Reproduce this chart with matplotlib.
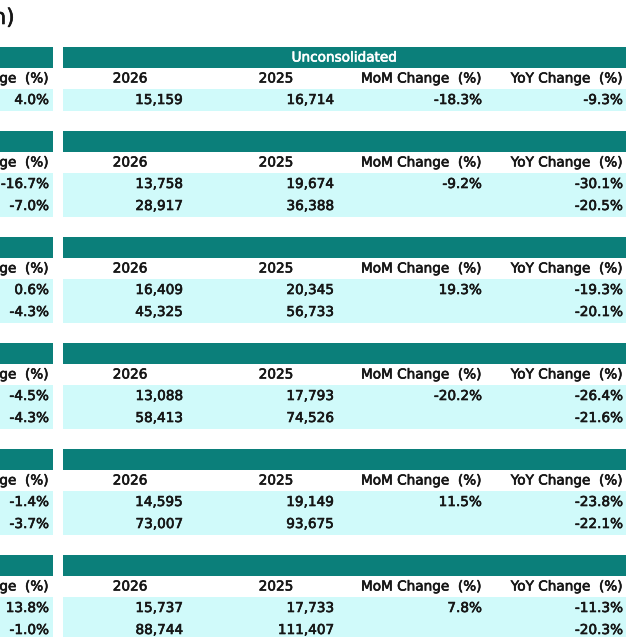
import matplotlib
matplotlib.use('Agg')
import matplotlib.pyplot as plt
import matplotlib.patheffects as pe
from matplotlib.patches import Rectangle

plt.rcParams['font.family'] = ['DejaVu Sans']

TEAL = '#0b7f7a'
CYAN = '#d0fafa'
INK = '#161616'

# ---- data (one entry per monthly block) ----
left_yoy = [["4.0%"], ["-16.7%", "-7.0%"], ["0.6%", "-4.3%"], ["-4.5%", "-4.3%"],
            ["-1.4%", "-3.7%"], ["13.8%", "-1.0%"]]
val_2026 = [["15,159"], ["13,758", "28,917"], ["16,409", "45,325"], ["13,088", "58,413"],
            ["14,595", "73,007"], ["15,737", "88,744"]]
val_2025 = [["16,714"], ["19,674", "36,388"], ["20,345", "56,733"], ["17,793", "74,526"],
            ["19,149", "93,675"], ["17,733", "111,407"]]
mom = [["-18.3%"], ["-9.2%", ""], ["19.3%", ""], ["-20.2%", ""], ["11.5%", ""], ["7.8%", ""]]
yoy = [["-9.3%"], ["-30.1%", "-20.5%"], ["-19.3%", "-20.1%"], ["-26.4%", "-21.6%"],
       ["-23.8%", "-22.1%"], ["-11.3%", "-20.3%"]]
col_labels = ["2026", "2025", "MoM Change  (%)", "YoY Change  (%)"]
left_label = "YoY Change  (%)"
group_title = "Unconsolidated"

fig = plt.figure(figsize=(6.38, 6.37), dpi=100)
ax = fig.add_axes([0, 0, 1, 1])
ax.set_xlim(0, 638)
ax.set_ylim(637, 0)
ax.axis('off')

FS = 9.8
heavy = [pe.withStroke(linewidth=0.45, foreground=INK)]
heavy_w = [pe.withStroke(linewidth=0.45, foreground='white')]

def cell(x, y, s, ha='right'):
    ax.text(x, y, s, ha=ha, va='center', fontsize=FS, color=INK, path_effects=heavy)

# title is cropped by the left edge
ax.text(15, 18, "(Unit: Thousand Won)", ha='right', va='center', fontsize=15.5,
        color=INK, path_effects=heavy)

LX0, LX1 = 0, 53        # cropped left table
RX0, RX1 = 63, 626      # right table
col_right = [183, 334, 482, 623]
hdr_pos = [130, 276, 482, 623]
hdr_ha = ['center', 'center', 'right', 'right']

top = 47
for b in range(len(yoy)):
    nrows = len(yoy[b])
    # header bars
    ax.add_patch(Rectangle((LX0 - 5, top), LX1 - LX0 + 5, 21, facecolor=TEAL, edgecolor='none'))
    ax.add_patch(Rectangle((RX0, top), RX1 - RX0, 21, facecolor=TEAL, edgecolor='none'))
    if b == 0:
        ax.text((RX0 + RX1) / 2, top + 10.5, group_title, ha='center', va='center',
                fontsize=FS, color='white', path_effects=heavy_w)
    # column labels
    ly = top + 31.5
    cell(49, ly, left_label)
    for lab, x, ha in zip(col_labels, hdr_pos, hdr_ha):
        cell(x, ly, lab, ha)
    # data rows
    dy = top + 42
    ax.add_patch(Rectangle((LX0 - 5, dy), LX1 - LX0 + 5, 22 * nrows, facecolor=CYAN, edgecolor='none'))
    ax.add_patch(Rectangle((RX0, dy), RX1 - RX0, 22 * nrows, facecolor=CYAN, edgecolor='none'))
    for r in range(nrows):
        y = dy + 11 + 22 * r
        cell(49, y, left_yoy[b][r])
        for vals, x in zip([val_2026, val_2025, mom, yoy], col_right):
            cell(x, y, vals[b][r])
    top = dy + 22 * nrows + 20

fig.savefig("out.png", dpi=100)
